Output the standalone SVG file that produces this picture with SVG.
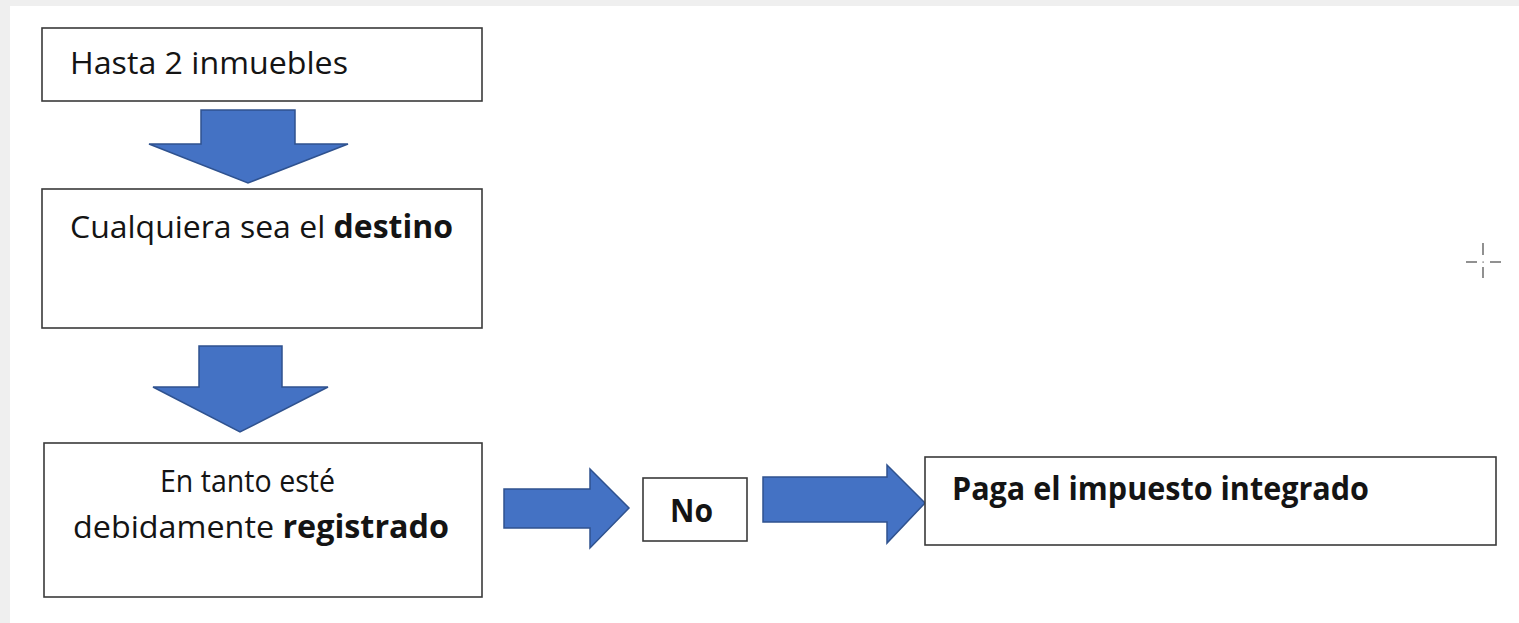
<svg xmlns="http://www.w3.org/2000/svg" width="1519" height="623" viewBox="0 0 1519 623">
<style>
.box{fill:#ffffff;stroke:#3a3a3a;stroke-width:1.6}
.arr{fill:#4472c4;stroke:#2f528f;stroke-width:1.5;stroke-linejoin:miter}
.t{font-family:"Open Sans","Liberation Sans",sans-serif;font-size:31.5px;fill:#141414}
.b{font-weight:bold}
.cur{stroke:#555;stroke-width:1.3}
</style>
<rect x="0" y="0" width="1519" height="623" fill="#efefef"/>
<rect x="10" y="6" width="1509" height="617" fill="#ffffff"/>
<g id="connectors">
<polygon class="arr" points="201,110 295,110 295,144 348,144 248,183 149,144 201,144"/>
<polygon class="arr" points="199,346 282,346 282,387 328,387 240,432 153,387 199,387"/>
<polygon class="arr" points="504,489 590,489 590,469 629,508 590,548 590,528 504,528"/>
<polygon class="arr" points="763,477 887,477 887,465 925,503 887,543 887,522 763,522"/>
</g>
<g id="node-hasta">
<rect class="box" x="42" y="28" width="440" height="73"/>
<text class="t" x="70" y="74" textLength="278" lengthAdjust="spacingAndGlyphs">Hasta 2 inmuebles</text>
</g>
<g id="node-destino">
<rect class="box" x="42" y="189" width="440" height="139"/>
<text class="t" x="70" y="238" textLength="383" lengthAdjust="spacingAndGlyphs">Cualquiera sea el <tspan class="b">destino</tspan></text>
</g>
<g id="node-registrado">
<rect class="box" x="44" y="443" width="438" height="154"/>
<text class="t" x="160" y="492" textLength="175" lengthAdjust="spacingAndGlyphs">En tanto esté</text>
<text class="t" x="73" y="538" textLength="376" lengthAdjust="spacingAndGlyphs">debidamente <tspan class="b">registrado</tspan></text>
</g>
<g id="node-no">
<rect class="box" x="643" y="478" width="104" height="63"/>
<text class="t b" x="670" y="522" textLength="43" lengthAdjust="spacingAndGlyphs">No</text>
</g>
<g id="node-paga">
<rect class="box" x="925" y="457" width="571" height="88"/>
<text class="t b" x="952" y="500" textLength="417" lengthAdjust="spacingAndGlyphs">Paga el impuesto integrado</text>
</g>
<g id="cursor">
<line class="cur" x1="1483" y1="243" x2="1483" y2="255"/>
<line class="cur" x1="1483" y1="267" x2="1483" y2="278"/>
<line class="cur" x1="1466" y1="262" x2="1477" y2="262"/>
<line class="cur" x1="1490" y1="262" x2="1501" y2="262"/>
<rect x="1482.5" y="261.5" width="1.2" height="1.2" fill="#555"/>
</g>
</svg>
